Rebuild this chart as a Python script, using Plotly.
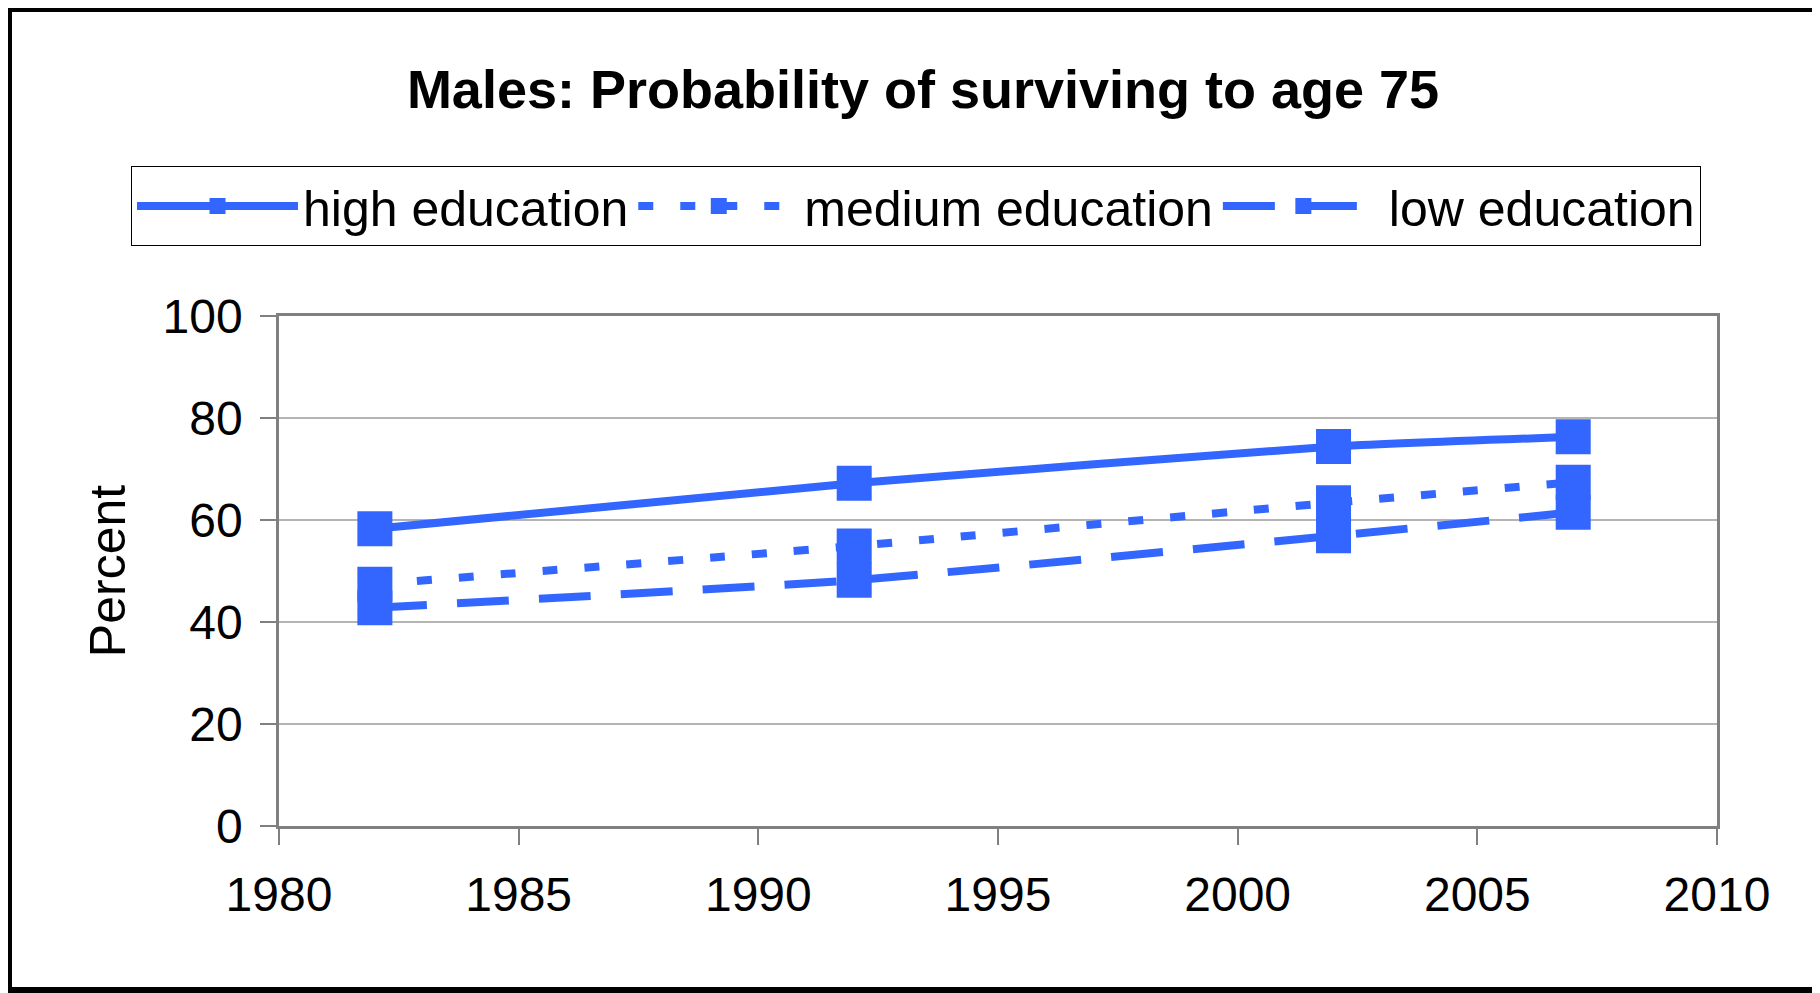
import plotly.graph_objects as go

years = [1982, 1992, 2002, 2007]
high_education = [58.3, 67.2, 74.4, 76.3]
medium_education = [47.4, 54.9, 63.4, 67.4]
low_education = [42.8, 48.2, 56.9, 61.5]

series_names = ["high education", "medium education", "low education"]
x_ticks = [1980, 1985, 1990, 1995, 2000, 2005, 2010]
y_ticks = [0, 20, 40, 60, 80, 100]

BLUE = "#3366FF"
FONT = "Arial, Liberation Sans, sans-serif"

# page body margin offset (browser default)
O = 8
W, H = 1820 - O, 993 - O
L, R, T, B = 279 - O, 1717 - O, 316 - O, 826 - O

fig = go.Figure()
dashes = ["solid", "15px,27px", "52px,30px"]
for name, vals, dash in zip(series_names, [high_education, medium_education, low_education], dashes):
    fig.add_trace(go.Scatter(
        x=years, y=vals, name=name, mode="lines+markers",
        line=dict(color=BLUE, width=8, dash=dash, shape="spline", smoothing=0.5),
        marker=dict(symbol="square", size=35, color=BLUE, line=dict(width=0)),
    ))

def px_x(p):
    return (p - L) / (R - L)

def px_y(p):
    return (B - p) / (B - T)

# outer frame of the picture
fig.add_shape(type="rect", xref="paper", yref="paper",
              x0=px_x(1), x1=px_x(W - 3), y0=px_y(H - 3), y1=px_y(1),
              line=dict(color="black", width=6), layer="below")

fig.update_layout(
    width=W, height=H,
    margin=dict(l=L, r=W - R, t=T, b=H - B, pad=0),
    paper_bgcolor="white", plot_bgcolor="white",
    font=dict(family=FONT, color="black", size=48),
    title=dict(text="<b>Males: Probability of surviving to age 75</b>",
               x=(923 - O) / W, xanchor="center", y=1 - (89 - O) / H, yanchor="middle",
               font=dict(size=54, family=FONT, color="black")),
    legend=dict(orientation="h", x=px_x(131 - O), xanchor="left",
                y=px_y(166 - O), yanchor="top",
                bordercolor="black", borderwidth=1, bgcolor="white",
                font=dict(size=50, family=FONT), itemwidth=161),
    showlegend=True,
)
fig.update_xaxes(range=[1980, 2010], tickvals=x_ticks, ticktext=[str(v) for v in x_ticks],
                 showline=True, linecolor="#808080", linewidth=2.5, mirror=True,
                 ticks="outside", ticklen=16, tickcolor="#808080", tickwidth=1.5,
                 showgrid=False, zeroline=False, ticklabelstandoff=9,
                 tickfont=dict(size=48))
fig.update_yaxes(range=[0, 100], tickvals=y_ticks, ticktext=[str(v) for v in y_ticks],
                 showline=True, linecolor="#808080", linewidth=2.5, mirror=True,
                 ticks="outside", ticklen=16, tickcolor="#808080", tickwidth=1.5,
                 showgrid=True, gridcolor="#b4b4b4", gridwidth=1.5, zeroline=False,
                 ticklabelstandoff=8, tickfont=dict(size=48),
                 title=dict(text="Percent", font=dict(size=50), standoff=22))

fig.write_html("out.html")
